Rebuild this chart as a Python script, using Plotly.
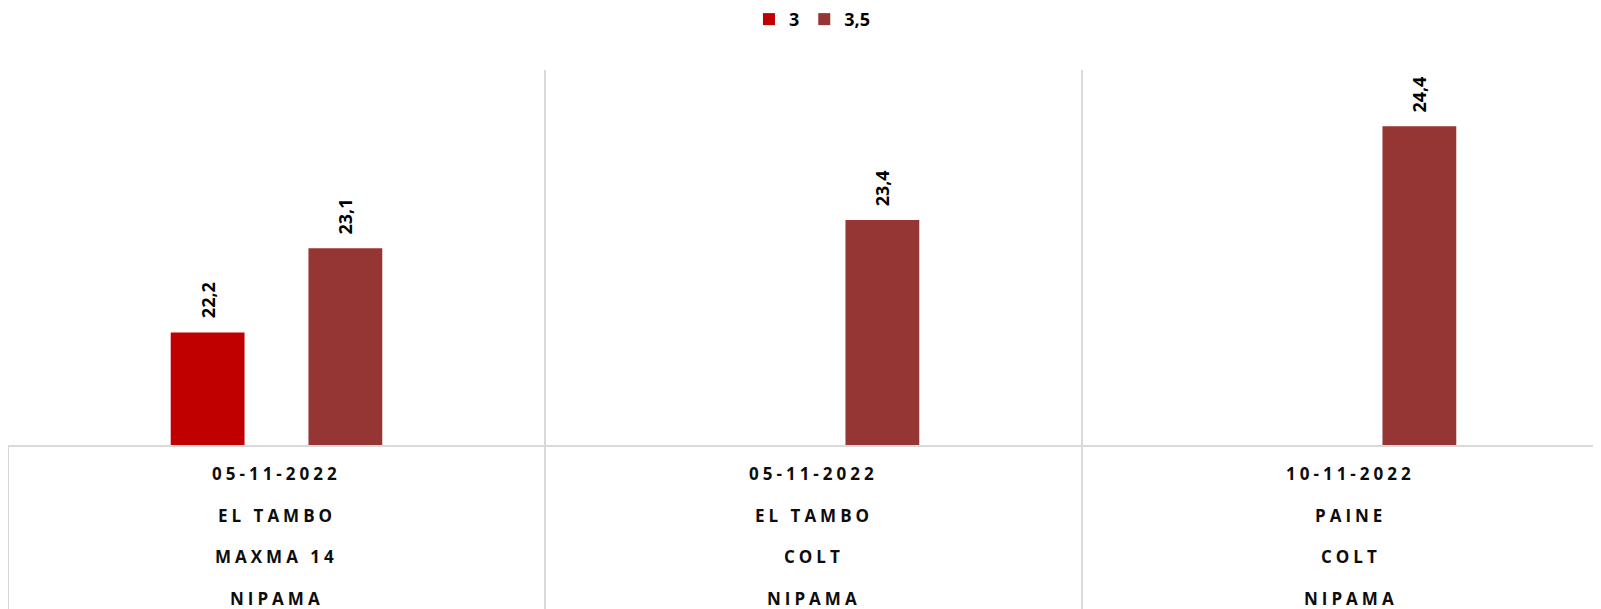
import plotly.graph_objects as go

# ---- data ----
dates = ["05-11-2022", "05-11-2022", "10-11-2022"]
places = ["EL TAMBO", "EL TAMBO", "PAINE"]
varieties = ["MAXMA 14", "COLT", "COLT"]
products = ["NIPAMA", "NIPAMA", "NIPAMA"]
series_names = ["3", "3,5"]
values_3 = [22.2, None, None]
values_35 = [23.1, 23.4, 24.4]

colors = ["#C00000", "#963634"]
cats = [f"{d} {p} {v} {n} #{i}" for i, (d, p, v, n) in enumerate(zip(dates, places, varieties, products))]

# page body has an 8px margin, so the figure is sized to fit the window
W, H = 1593, 601
ML, MT, MB = 0, 62, 164
cat_px = 537.0
x_max = -0.5 + (W - ML) / cat_px

bargap = 0.487
bargroupgap = 0.464
slot = (1 - bargap) / 2

fig = go.Figure()
all_series = [values_3, values_35]
for k, (name, vals) in enumerate(zip(series_names, all_series)):
    fig.add_trace(go.Bar(
        x=cats, y=vals, name=name, marker=dict(color=colors[k], line=dict(width=0)),
    ))

annotations = []
# data labels
for k, vals in enumerate(all_series):
    off = (k - 0.5) * slot
    for i, v in enumerate(vals):
        if v is None:
            continue
        annotations.append(dict(
            x=i + off, y=v, xref="x", yref="y", text=f"{v:.1f}".replace(".", ","),
            textangle=-90, showarrow=False, yanchor="bottom", xanchor="center", yshift=12,
            font=dict(family="Open Sans", size=18, color="#000000", weight="bold"),
        ))

# category labels (4 levels)
level_shifts = [-28.5, -70, -111, -153]
for i in range(len(cats)):
    for lvl, txt in enumerate([dates[i], places[i], varieties[i], products[i]]):
        annotations.append(dict(
            x=i, y=0, xref="x", yref="paper", yanchor="middle", xanchor="center",
            yshift=level_shifts[lvl], showarrow=False,
            text=f'<span style="letter-spacing:4px">{txt}</span>',
            font=dict(family="Open Sans", size=17, color="#0d0d0d", weight="bold"),
        ))

fig.update_layout(
    width=W, height=H,
    margin=dict(l=ML, r=0, t=MT, b=MB, pad=0),
    paper_bgcolor="white", plot_bgcolor="white",
    barmode="group", bargap=bargap, bargroupgap=bargroupgap,
    showlegend=True,
    legend=dict(orientation="h", x=0.505, xanchor="center", yref="container", y=0.981, yanchor="middle",
                font=dict(family="Open Sans", size=18, color="#000000", weight="bold"),
                itemwidth=30, traceorder="normal"),
    annotations=annotations,
    xaxis=dict(
        type="category", range=[-0.5, x_max], showticklabels=False,
        tickson="boundaries", showgrid=True, gridcolor="#d9d9d9", gridwidth=2,
        ticks="outside", ticklen=MB, tickcolor="#d9d9d9", tickwidth=2,
        showline=True, linecolor="#d9d9d9", linewidth=2, zeroline=False,
    ),
    yaxis=dict(range=[21, 25], showticklabels=False, showgrid=False, zeroline=False,
               showline=False, ticks=""),
)

fig.write_html("out.html")
